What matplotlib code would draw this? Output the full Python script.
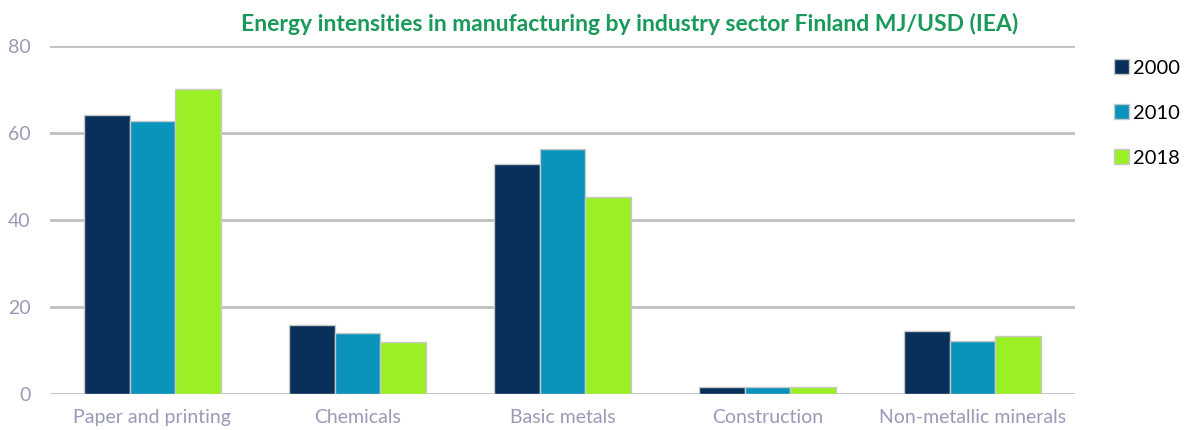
import matplotlib.pyplot as plt
import numpy as np

categories = ["Paper and printing", "Chemicals", "Basic metals", "Construction", "Non-metallic minerals"]
years = ["2000", "2010", "2018"]
v2000 = [64.1, 15.9, 52.9, 1.6, 14.5]
v2010 = [62.8, 14.0, 56.3, 1.6, 12.2]
v2018 = [70.1, 12.0, 45.3, 1.6, 13.3]
colors = ["#08305a", "#0a93bb", "#9af024"]

plt.rcParams['font.family'] = ['Lato', 'DejaVu Sans']

fig = plt.figure(figsize=(11.88, 4.3), dpi=100)
ax = fig.add_axes([0.042, 0.084, 0.863, 0.809])

x = np.arange(len(categories))
w = 0.222
for i, (vals, c, yr) in enumerate(zip([v2000, v2010, v2018], colors, years)):
    ax.bar(x + (i - 1) * w, vals, w, color=c, edgecolor="#c8c8c8", linewidth=1, label=yr, zorder=3)

ax.set_xlim(-0.5, 4.5)
ax.set_ylim(0, 80)
ax.set_yticks([0, 20, 40, 60, 80])
ax.yaxis.grid(True, color="#c0c0c0", linewidth=2)
ax.set_axisbelow(True)
for s in ax.spines.values():
    s.set_visible(False)
ax.tick_params(length=0)
ax.set_xticks(x)
ax.set_xticklabels(categories, fontsize=14, color="#9a9ab8")
ax.tick_params(axis='x', pad=11)
ax.tick_params(axis='y', pad=14, labelsize=14, labelcolor="#9a9ab8")

fig.text(0.53, 0.945, "Energy intensities in manufacturing by industry sector Finland MJ/USD (IEA)",
         ha="center", va="center", fontsize=16.5, fontweight="bold", color="#1a9a5a")

fig.legend(loc="upper left", bbox_to_anchor=(0.938, 0.862), frameon=False, fontsize=14.5,
           borderpad=0, borderaxespad=0,
           handlelength=0.75, handleheight=0.75, handletextpad=0.2, labelspacing=1.37)

fig.savefig("out.png", dpi=100)
